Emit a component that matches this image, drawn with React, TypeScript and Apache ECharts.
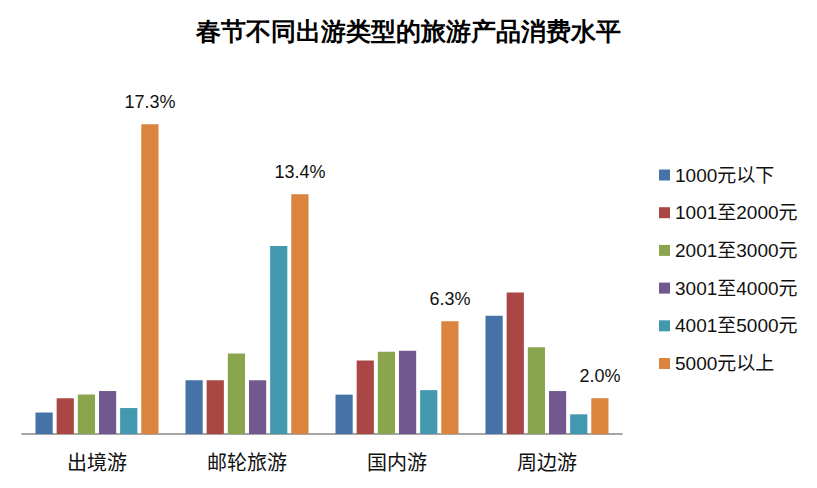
import React, { useEffect, useRef } from "react";
import * as echarts from "echarts";

const categories = ["出境游", "邮轮旅游", "国内游", "周边游"];
const seriesNames = ["1000元以下", "1001至2000元", "2001至3000元", "3001至4000元", "4001至5000元", "5000元以上"];
const s1000 = [1.2, 3.0, 2.2, 6.6];
const s2000 = [2.0, 3.0, 4.1, 7.9];
const s3000 = [2.2, 4.5, 4.6, 4.85];
const s4000 = [2.4, 3.0, 4.65, 2.4];
const s5000 = [1.45, 10.5, 2.45, 1.1];
const sAbove = [17.3, 13.4, 6.3, 2.0];
const colors = ["#4572A7", "#AA4643", "#89A54E", "#71588F", "#4198AF", "#DB843D"];

const FONT = "'Liberation Sans', 'Noto Sans CJK SC', sans-serif";

export default function App() {
  const ref = useRef<HTMLDivElement>(null);
  useEffect(() => {
    if (!ref.current) return;
    const chart = echarts.init(ref.current, null, { renderer: "svg" });
    const data = [s1000, s2000, s3000, s4000, s5000, sAbove];
    chart.setOption({
      animation: false,
      color: colors,
      title: {
        text: "春节不同出游类型的旅游产品消费水平",
        left: "center",
        top: 14,
        textStyle: { fontFamily: "serif", fontWeight: "bold", fontSize: 25, color: "#000" },
      },
      legend: {
        orient: "vertical",
        left: 654,
        top: 160,
        itemWidth: 11,
        itemHeight: 11,
        itemGap: 17.7,
        icon: "rect",
        textStyle: { fontFamily: FONT, fontSize: 19, lineHeight: 20, color: "#111" },
        data: seriesNames,
      },
      grid: { left: 22, right: 195, top: 76, bottom: 54 },
      xAxis: {
        type: "category",
        data: categories,
        axisLine: { lineStyle: { color: "#888", width: 1.5 } },
        axisTick: { show: false },
        axisLabel: { fontFamily: FONT, fontSize: 20, color: "#111", margin: 19 },
      },
      yAxis: { type: "value", min: 0, max: 20, show: false, splitLine: { show: false } },
      series: seriesNames.map((name, i) => ({
        name,
        type: "bar",
        data: data[i],
        barGap: "23%",
        barCategoryGap: "18%",
        label:
          i === 5
            ? {
                show: true,
                position: "top",
                distance: 13,
                formatter: (p: any) => p.value.toFixed(1) + "%",
                fontFamily: FONT,
                fontSize: 18,
                color: "#111",
              }
            : { show: false },
      })),
    });
    return () => chart.dispose();
  }, []);
  return <div ref={ref} style={{ position: "absolute", left: 0, top: 0, width: 817, height: 488 }} />;
}
